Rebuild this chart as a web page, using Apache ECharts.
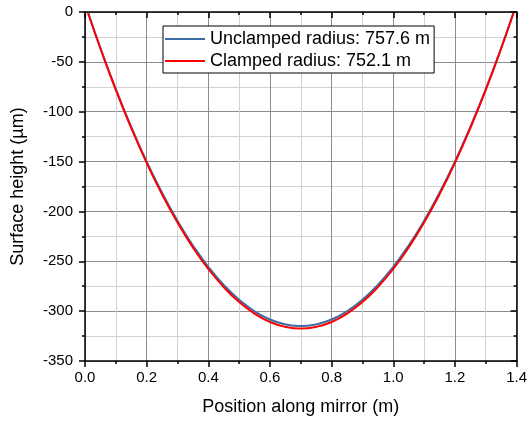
<!DOCTYPE html>
<html>
<head>
<meta charset="utf-8">
<script src="https://cdn.jsdelivr.net/npm/echarts@6/dist/echarts.min.js"></script>
<style>
  html, body { margin: 0; padding: 0; background: #fff; }
  #chart { width: 530px; height: 421px; }
</style>
</head>
<body>
<div id="chart"></div>
<script>
// Position along the mirror (m)
const positions = [0.01, 0.05, 0.10, 0.15, 0.20, 0.25, 0.30, 0.35, 0.40, 0.45, 0.50, 0.55, 0.60, 0.65, 0.70,
                   0.75, 0.80, 0.85, 0.90, 0.95, 1.00, 1.05, 1.10, 1.15, 1.20, 1.25, 1.30, 1.35, 1.39];
// Surface height (µm), unclamped mirror
const unclamped = [-0.8, -36.1, -77.4, -115.3, -150.0, -181.3, -209.4, -234.1, -255.6, -273.7, -288.6, -300.1, -308.4, -313.3, -315.0,
                   -313.3, -308.4, -300.1, -288.6, -273.7, -255.6, -234.1, -209.4, -181.3, -150.0, -115.3, -77.4, -36.1, -0.8];
// Surface height (µm), clamped mirror
const clamped = [-1.0, -36.6, -78.2, -116.4, -151.3, -182.9, -211.1, -236.1, -257.7, -275.9, -290.9, -302.5, -310.9, -315.8, -317.5,
                 -315.8, -310.9, -302.5, -290.9, -275.9, -257.7, -236.1, -211.1, -182.9, -151.3, -116.4, -78.2, -36.6, -1.0];
const seriesNames = ['Unclamped radius: 757.6 m', 'Clamped radius: 752.1 m'];

const font = 'Arial, "Liberation Sans", sans-serif';
const toPairs = ys => positions.map((x, i) => [x, ys[i]]);

const xRange = { min: 0, max: 1.4, interval: 0.2 };
const yRange = { min: -350, max: 0, interval: 50 };

const chart = echarts.init(document.getElementById('chart'), null, { renderer: 'canvas' });
chart.setOption({
  animation: false,
  backgroundColor: '#fff',
  grid: { left: 85, right: 10, top: 12, bottom: 59, containLabel: false },
  legend: {
    orient: 'vertical',
    left: 163, top: 26,
    padding: [4, 4, 3, 2],
    icon: 'rect',
    itemWidth: 40, itemHeight: 2, itemGap: 4,
    borderColor: '#000', borderWidth: 1,
    backgroundColor: '#fff',
    textStyle: { fontFamily: font, fontSize: 18, color: '#000', lineHeight: 18 },
    data: seriesNames
  },
  xAxis: [
    {
      type: 'value', position: 'bottom', ...xRange,
      name: 'Position along mirror (m)', nameLocation: 'middle', nameGap: 37,
      nameTextStyle: { fontFamily: font, fontSize: 18, color: '#000' },
      axisLine: { show: true, onZero: false, lineStyle: { color: '#000', width: 1.5 } },
      axisTick: { show: true, inside: false, length: 6, lineStyle: { color: '#000', width: 1.5 } },
      minorTick: { show: true, splitNumber: 2, length: 3, lineStyle: { color: '#000', width: 1.5 } },
      axisLabel: { fontFamily: font, fontSize: 15, color: '#000', margin: 9, formatter: v => v.toFixed(1) },
      splitLine: { show: true, lineStyle: { color: '#8c8c8c', width: 1 } },
      minorSplitLine: { show: true, lineStyle: { color: '#d2d2d2', width: 1 } }
    },
    {
      type: 'value', position: 'top', ...xRange,
      axisLine: { show: true, onZero: false, lineStyle: { color: '#000', width: 1.5 } },
      axisTick: { show: true, inside: true, length: 6, lineStyle: { color: '#000', width: 1.5 } },
      minorTick: { show: true, splitNumber: 2, length: 3, lineStyle: { color: '#000', width: 1.5 } },
      axisLabel: { show: false },
      splitLine: { show: false }
    }
  ],
  yAxis: [
    {
      type: 'value', position: 'left', ...yRange,
      name: 'Surface height (\u00b5m)', nameLocation: 'middle', nameGap: 58, nameRotate: 90,
      nameTextStyle: { fontFamily: font, fontSize: 18, color: '#000' },
      axisLine: { show: true, onZero: false, lineStyle: { color: '#000', width: 1.5 } },
      axisTick: { show: true, inside: false, length: 6, lineStyle: { color: '#000', width: 1.5 } },
      minorTick: { show: true, splitNumber: 2, length: 3, lineStyle: { color: '#000', width: 1.5 } },
      axisLabel: { fontFamily: font, fontSize: 15, color: '#000', margin: 12 },
      splitLine: { show: true, lineStyle: { color: '#8c8c8c', width: 1 } },
      minorSplitLine: { show: true, lineStyle: { color: '#d2d2d2', width: 1 } }
    },
    {
      type: 'value', position: 'right', ...yRange,
      axisLine: { show: true, onZero: false, lineStyle: { color: '#000', width: 1.5 } },
      axisTick: { show: true, inside: true, length: 6, lineStyle: { color: '#000', width: 1.5 } },
      minorTick: { show: true, splitNumber: 2, length: 3, lineStyle: { color: '#000', width: 1.5 } },
      axisLabel: { show: false },
      splitLine: { show: false }
    }
  ],
  series: [
    {
      name: seriesNames[0], type: 'line', xAxisIndex: 0, yAxisIndex: 0,
      data: toPairs(unclamped), smooth: true, symbol: 'none',
      lineStyle: { color: '#3a6ea5', width: 2 }, itemStyle: { color: '#3a6ea5' }, z: 3
    },
    {
      name: seriesNames[1], type: 'line', xAxisIndex: 0, yAxisIndex: 0,
      data: toPairs(clamped), smooth: true, symbol: 'none',
      lineStyle: { color: '#ff0000', width: 2 }, itemStyle: { color: '#ff0000' }, z: 4
    }
  ]
});
</script>
</body>
</html>
